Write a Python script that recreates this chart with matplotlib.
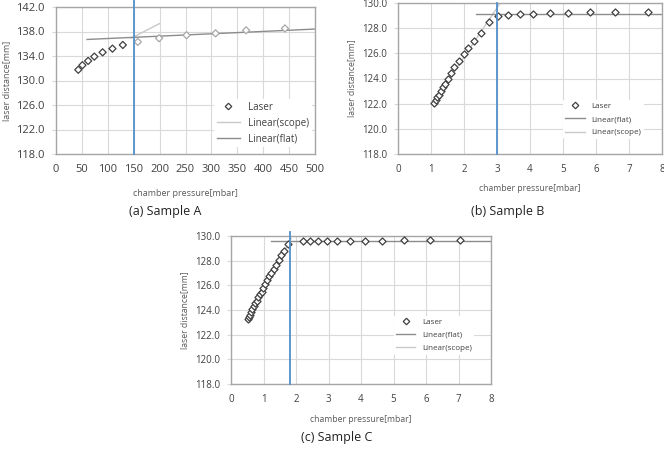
import matplotlib
matplotlib.use("Agg")
import matplotlib.pyplot as plt
import numpy as np
from matplotlib.lines import Line2D
from matplotlib.ticker import FormatStrFormatter

plt.rcParams['font.family'] = ['Open Sans', 'DejaVu Sans']

# ---------------- data ----------------
# Sample A
a_x = [43, 51, 62, 74, 90, 109, 129, 158, 199, 252, 308, 367, 442]
a_y = [131.75, 132.5, 133.2, 133.9, 134.6, 135.2, 135.8, 136.3, 136.9, 137.4, 137.7, 138.2, 138.5]
a_scope_x = [145, 200]
a_scope_y = [136.9, 139.3]
a_flat_x = [60, 500]
a_flat_y = [136.7, 138.4]
a_knee = 150

# Sample B
b_x = [1.10, 1.15, 1.19, 1.24, 1.30, 1.36, 1.43, 1.51, 1.62, 1.71, 1.85, 1.99, 2.13,
       2.31, 2.53, 2.77, 3.03, 3.33, 3.71, 4.10, 4.62, 5.16, 5.82, 6.59, 7.57]
b_y = [122.09, 122.3, 122.5, 122.7, 123.0, 123.3, 123.6, 124.0, 124.45, 124.93, 125.38,
       125.91, 126.44, 126.97, 127.64, 128.51, 128.97, 129.05, 129.1, 129.15, 129.2,
       129.2, 129.25, 129.25, 129.28]
b_scope_x = [1.05, 3.1]
b_scope_y = [122.0, 130.0]
b_flat_x = [2.35, 8.0]
b_flat_y = [129.15, 129.15]
b_knee = 3.0

# Sample C
c_x = [0.533, 0.554, 0.585, 0.615, 0.656, 0.697, 0.738, 0.790, 0.841, 0.892, 0.944,
       0.995, 1.056, 1.118, 1.179, 1.241, 1.313, 1.385, 1.467, 1.549, 1.641, 1.754,
       2.22, 2.43, 2.67, 2.94, 3.27, 3.66, 4.11, 4.66, 5.31, 6.11, 7.04]
c_y = [123.28, 123.42, 123.63, 123.85, 124.07, 124.31, 124.53, 124.77, 125.02, 125.26,
       125.50, 125.75, 126.07, 126.40, 126.72, 127.02, 127.35, 127.67, 128.08, 128.43,
       128.81, 129.35, 129.6, 129.62, 129.62, 129.62, 129.62, 129.62, 129.63, 129.63,
       129.64, 129.64, 129.64]
c_scope_x = [0.5, 1.85]
c_scope_y = [123.1, 129.8]
c_flat_x = [1.22, 8.0]
c_flat_y = [129.62, 129.62]
c_knee = 1.8

W, H = 664, 459
fig = plt.figure(figsize=(W / 100, H / 100), dpi=100)

def fr(l, t, r, b):
    return [l / W, 1 - b / H, (r - l) / W, (b - t) / H]

GRID = '#d9d9d9'
SPINE = '#a6a6a6'
TXT = '#404040'
BLUE = '#5290cc'
DARKL = '#8c8c8c'
LIGHTL = '#c8c8c8'

def panel(rect, xs, ys, scope, flat, knee, xlim, xstep, ylim, ystep,
          tfs, lfs, legfs, leg_order, leg_anchor, xpad, xlabelpad,
          fade=False, knee_top=1.0, labelspacing=0.7):
    ax = fig.add_axes(rect)
    ax.set_xlim(*xlim)
    ax.set_ylim(*ylim)
    ax.set_xticks(np.arange(xlim[0], xlim[1] + xstep / 2, xstep))
    ax.set_yticks(np.arange(ylim[0], ylim[1] + ystep / 2, ystep))
    ax.yaxis.set_major_formatter(FormatStrFormatter('%.1f'))
    ax.grid(True, color=GRID, lw=0.8)
    ax.set_axisbelow(True)
    for s in ax.spines.values():
        s.set_color(SPINE)
        s.set_linewidth(1.0)
    ax.tick_params(labelsize=tfs, colors=TXT)
    ax.tick_params(axis='x', pad=xpad, length=0)
    ax.tick_params(axis='y', pad=5, length=3, width=0.8, color=GRID)
    ax.plot(scope[0], scope[1], color=LIGHTL, lw=1.0, zorder=2)
    ax.plot(flat[0], flat[1], color=DARKL, lw=1.0, zorder=2)
    ax.axvline(knee, ymin=0, ymax=knee_top, color=BLUE, lw=1.3, zorder=4, clip_on=False)
    xs = np.asarray(xs); ys = np.asarray(ys)
    if fade:
        ec = ['#404040' if x < knee else '#a8a8a8' for x in xs]
    else:
        ec = '#404040'
    ax.scatter(xs, ys, marker='D', s=13, facecolors='white', edgecolors=ec,
               linewidths=0.9, zorder=3)
    ax.set_xlabel('chamber pressure[mbar]', fontsize=lfs, color='#595959', labelpad=xlabelpad)
    ax.set_ylabel('laser distance[mm]', fontsize=lfs, color='#595959', labelpad=4)
    handles = {
        'Laser': Line2D([], [], ls='none', marker='D', ms=3.3, mfc='white', mec='#404040', mew=0.9),
        'Linear(scope)': Line2D([], [], color=LIGHTL, lw=1.0),
        'Linear(flat)': Line2D([], [], color=DARKL, lw=1.0),
    }
    leg = ax.legend([handles[k] for k in leg_order], leg_order, loc='center left',
                    bbox_to_anchor=leg_anchor, fontsize=legfs, frameon=True,
                    facecolor='white', edgecolor='none', framealpha=1,
                    handlelength=2.4, labelspacing=labelspacing, borderpad=0.3)
    for t in leg.get_texts():
        t.set_color(TXT)
    return ax

axA = panel(fr(56, 7, 315, 154), a_x, a_y, (a_scope_x, a_scope_y), (a_flat_x, a_flat_y),
            a_knee, (0, 500), 50, (118, 142), 4, 8, 6.5, 7,
            ['Laser', 'Linear(scope)', 'Linear(flat)'], (0.59, 0.21), 7, 10,
            fade=True, knee_top=1.048, labelspacing=0.5)
axB = panel(fr(398, 3, 662, 154), b_x, b_y, (b_scope_x, b_scope_y), (b_flat_x, b_flat_y),
            b_knee, (0, 8), 1, (118, 130), 2, 7, 6.2, 5.8,
            ['Laser', 'Linear(flat)', 'Linear(scope)'], (0.61, 0.23), 7.5, 6)
axC = panel(fr(231, 236, 491, 384), c_x, c_y, (c_scope_x, c_scope_y), (c_flat_x, c_flat_y),
            c_knee, (0, 8), 1, (118, 130), 2, 7, 6.2, 5.8,
            ['Laser', 'Linear(flat)', 'Linear(scope)'], (0.61, 0.33), 7.5, 7,
            knee_top=1.03)

cap = dict(fontsize=9, color='#222222', ha='center', va='center')
fig.text(165 / W, 1 - 212 / H, '(a) Sample A', **cap)
fig.text(508 / W, 1 - 212 / H, '(b) Sample B', **cap)
fig.text(337 / W, 1 - 438 / H, '(c) Sample C', **cap)

fig.savefig('out.png', dpi=100, facecolor='white')
